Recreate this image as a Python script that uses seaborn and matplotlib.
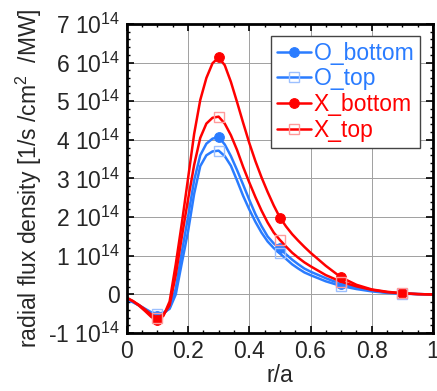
import matplotlib
matplotlib.use("Agg")
import matplotlib.pyplot as plt
from matplotlib.ticker import MultipleLocator, FixedLocator, FixedFormatter
import pandas as pd
import seaborn as sns

# radial coordinate r/a
r = [0.0, 0.02, 0.04, 0.06, 0.08, 0.1, 0.12, 0.14, 0.16, 0.18, 0.2, 0.22,
     0.24, 0.26, 0.28, 0.3, 0.32, 0.34, 0.36, 0.38, 0.4, 0.42, 0.44, 0.46,
     0.48, 0.5, 0.52, 0.54, 0.56, 0.58, 0.6, 0.65, 0.7, 0.75, 0.8, 0.85,
     0.9, 0.95, 1.0]

# radial flux density in units of 1e14 [1/s /cm^2 /MW]
o_bottom = [-0.12, -0.19, -0.28, -0.39, -0.50, -0.56, -0.50, -0.35, 0.15, 1.10,
            2.00, 2.95, 3.60, 3.90, 4.03, 4.07, 3.88, 3.58, 3.22, 2.84, 2.45,
            2.08, 1.77, 1.50, 1.32, 1.19, 1.04, 0.90, 0.78, 0.67, 0.59, 0.42,
            0.27, 0.17, 0.10, 0.05, 0.03, 0.01, 0.0]
o_top = [-0.14, -0.20, -0.28, -0.37, -0.46, -0.50, -0.47, -0.37, 0.00, 0.82,
         1.62, 2.60, 3.32, 3.60, 3.70, 3.72, 3.58, 3.33, 2.95, 2.55, 2.20,
         1.88, 1.60, 1.37, 1.20, 1.06, 0.92, 0.78, 0.67, 0.57, 0.50, 0.34,
         0.22, 0.14, 0.08, 0.04, 0.02, 0.01, 0.0]
x_bottom = [-0.08, -0.17, -0.29, -0.43, -0.58, -0.67, -0.55, -0.18, 0.78, 1.85,
            2.99, 4.15, 5.03, 5.60, 5.98, 6.13, 5.93, 5.50, 4.98, 4.44, 3.92,
            3.45, 3.03, 2.65, 2.30, 1.99, 1.76, 1.56, 1.39, 1.23, 1.08, 0.74,
            0.44, 0.25, 0.13, 0.07, 0.03, 0.01, 0.0]
x_top = [-0.10, -0.17, -0.27, -0.39, -0.52, -0.60, -0.52, -0.28, 0.50, 1.50,
         2.45, 3.35, 4.05, 4.42, 4.57, 4.60, 4.42, 4.12, 3.74, 3.30, 2.90,
         2.52, 2.17, 1.86, 1.60, 1.41, 1.24, 1.08, 0.95, 0.83, 0.73, 0.50,
         0.33, 0.21, 0.12, 0.06, 0.03, 0.01, 0.0]

marker_r = [0.1, 0.3, 0.5, 0.7, 0.9]

y_ticks = [-1, 0, 1, 2, 3, 4, 5, 6, 7]
y_tick_labels = ["-1 10$^{14}$", "0", "1 10$^{14}$", "2 10$^{14}$", "3 10$^{14}$",
                 "4 10$^{14}$", "5 10$^{14}$", "6 10$^{14}$", "7 10$^{14}$"]
x_ticks = [0, 0.2, 0.4, 0.6, 0.8, 1.0]
x_tick_labels = ["0", "0.2", "0.4", "0.6", "0.8", "1"]

sns.set_style("ticks")
plt.rcParams["font.family"] = ["Liberation Sans", "DejaVu Sans"]
plt.rcParams["mathtext.fontset"] = "custom"
plt.rcParams["mathtext.rm"] = "Liberation Sans"
plt.rcParams["mathtext.it"] = "Liberation Sans"
plt.rcParams["mathtext.bf"] = "Liberation Sans"

FS = 16.5
blue = "#2a7cff"
red = "#ff0000"

fig = plt.figure(figsize=(4.37, 3.91), dpi=100)
ax = fig.add_axes([0.29, 0.148, 0.701, 0.791])

mark_idx = [r.index(m) for m in marker_r]

series = [
    ("O_bottom", o_bottom, blue, dict(marker="o", markersize=7, markerfacecolor=blue,
                                      markeredgecolor=blue)),
    ("O_top", o_top, blue, dict(marker="s", markersize=7, markerfacecolor="none",
                                markeredgecolor="#9cc0ff", markeredgewidth=1.0)),
    ("X_bottom", x_bottom, red, dict(marker="o", markersize=7, markerfacecolor=red,
                                     markeredgecolor=red)),
    ("X_top", x_top, red, dict(marker="s", markersize=7, markerfacecolor="none",
                               markeredgecolor="#ff9a9a", markeredgewidth=1.0)),
]

for name, vals, col, mk in series:
    df = pd.DataFrame({"r": r, "flux": vals})
    sns.lineplot(data=df, x="r", y="flux", ax=ax, color=col, linewidth=1.8,
                 label=name, markevery=mark_idx, **mk)

ax.set_xlim(0, 1)
ax.set_ylim(-1, 7)
ax.xaxis.set_major_locator(FixedLocator(x_ticks))
ax.xaxis.set_major_formatter(FixedFormatter(x_tick_labels))
ax.yaxis.set_major_locator(FixedLocator(y_ticks))
ax.yaxis.set_major_formatter(FixedFormatter(y_tick_labels))
ax.xaxis.set_minor_locator(MultipleLocator(0.05))
ax.yaxis.set_minor_locator(MultipleLocator(0.2))

ax.tick_params(which="both", direction="in", top=True, right=True,
               labelsize=FS, color="black")
ax.tick_params(which="major", length=5, width=1.2, pad=5)
ax.tick_params(which="minor", length=2.5, width=1.0)

for s in ax.spines.values():
    s.set_linewidth(2.0)
    s.set_color("black")

ax.grid(True, which="major", color="#a0a0a0", linewidth=0.7, linestyle="-")
ax.set_axisbelow(True)

ax.set_xlabel("r/a", fontsize=FS, labelpad=1)
ax.set_ylabel("radial flux density [1/s /cm$^{2}$  /MW]", fontsize=FS, labelpad=3)

leg = ax.legend(loc="upper right", bbox_to_anchor=(0.958, 0.961), fontsize=FS,
                frameon=True, fancybox=False, framealpha=1, edgecolor="#444444",
                handlelength=1.5, handletextpad=0.12, borderpad=0.25,
                labelspacing=0.12, borderaxespad=0)
leg.get_frame().set_linewidth(1.0)
for txt, (_, _, col, _) in zip(leg.get_texts(), series):
    txt.set_color(col)

fig.savefig("out.png", dpi=100)
